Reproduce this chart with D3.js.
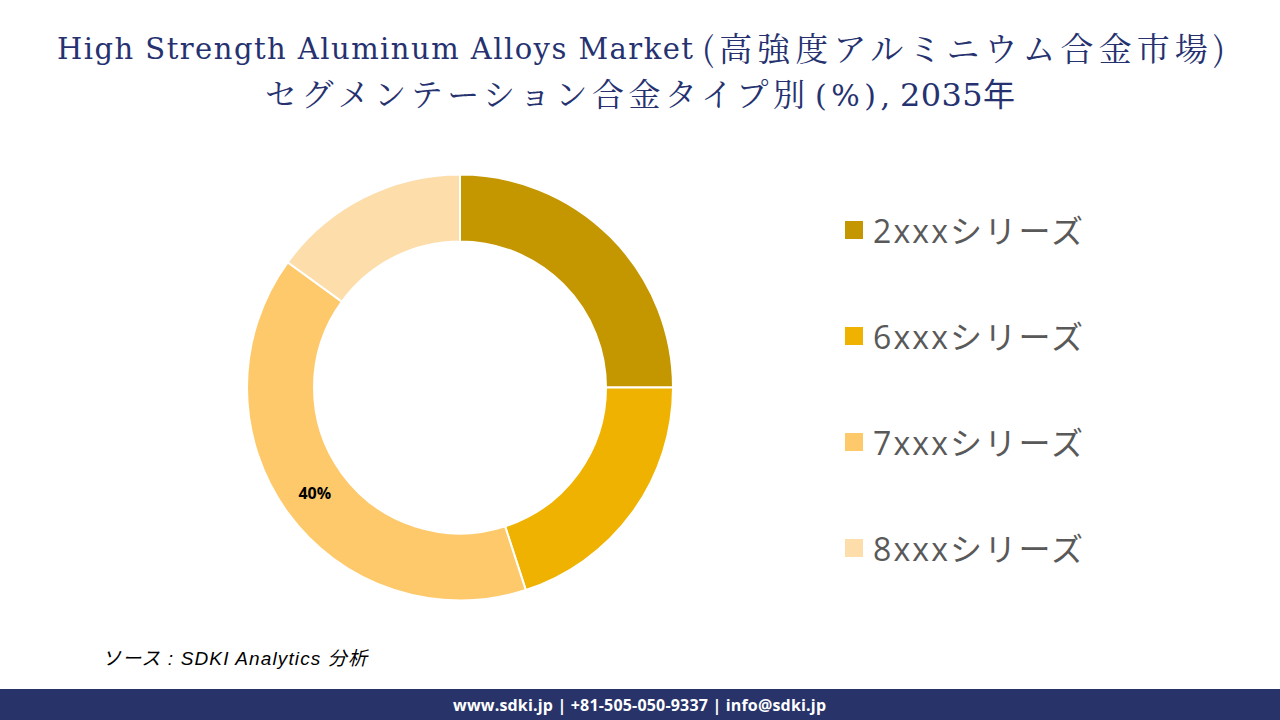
<!DOCTYPE html>
<html><head><meta charset="utf-8">
<script src="https://cdn.jsdelivr.net/npm/d3@7"></script>
<style>
html,body{margin:0;padding:0;background:#fff;}
svg{display:block;}
</style></head>
<body>
<svg id="c" width="1280" height="720"></svg>
<script>
const categories = ["2xxxシリーズ","6xxxシリーズ","7xxxシリーズ","8xxxシリーズ"];
const values = [25, 20, 40, 15];
const colors = ["#C49600","#EFB200","#FDC96B","#FDDDAA"];
const shownLabels = [false, false, true, false];
const titleLine1 = ["High Strength Aluminum Alloys Market", "(高強度アルミニウム合金市場)"];
const titleLine2 = ["セグメンテーション合金タイプ別", "(%),", "2035年"];

const svg = d3.select("#c");
const latinSerif = "'DejaVu Serif','Liberation Serif','Noto Sans CJK JP',serif";
const cjk = "'Noto Serif CJK JP','Noto Sans CJK JP',serif";
const sans = "'Open Sans','Noto Sans','Noto Sans CJK JP',sans-serif";
const navy = "#263270";

function seg(txt, x, y, len, fam, size){
  return svg.append("text").attr("x",x).attr("y",y)
    .attr("font-family",fam).attr("font-size",size).attr("fill",navy)
    .attr("textLength",len).attr("lengthAdjust","spacing").text(txt);
}
seg(titleLine1[0], 57, 59, 636, latinSerif, 29);
seg(titleLine1[1], 702, 61, 523, cjk, 33);
seg(titleLine2[0], 265, 106, 540, cjk, 32);
seg(titleLine2[1], 815, 106, 75, latinSerif, 30);
seg(titleLine2[2], 900, 106, 115, latinSerif, 32);

const cx = 460, cy = 387.5, R = 213, r = 146;
const pie = d3.pie().sort(null).value(d=>d)(values);
const arc = d3.arc().innerRadius(r).outerRadius(R);
const g = svg.append("g").attr("transform",`translate(${cx},${cy})`);
g.selectAll("path").data(pie).enter().append("path")
  .attr("d",arc).attr("fill",(d,i)=>colors[i]).attr("stroke","#fff").attr("stroke-width",2);

g.selectAll("text.lbl").data(pie.filter((d,i)=>shownLabels[i])).enter().append("text")
  .attr("class","lbl")
  .attr("transform",d=>`translate(${arc.centroid(d)})`)
  .attr("text-anchor","middle").attr("dominant-baseline","central")
  .attr("font-family",sans).attr("font-weight","bold").attr("font-size",16).attr("fill","#000")
  .text(d=>d.value+"%");

const ly = d3.scalePoint().domain(categories).range([230, 548]);
const lg = svg.append("g");
categories.forEach((c,i)=>{
  lg.append("rect").attr("x",845).attr("y",ly(c)-9).attr("width",18).attr("height",18).attr("fill",colors[i]);
  lg.append("text").attr("x",873).attr("y",ly(c)).attr("dominant-baseline","central")
    .attr("font-family",sans).attr("font-size",32).attr("fill","#595959")
    .attr("textLength",210).attr("lengthAdjust","spacing").text(c);
});

svg.append("text").attr("x",102).attr("y",665)
  .attr("font-family","'Liberation Sans','Noto Sans CJK JP',sans-serif").attr("font-style","italic").attr("font-size",19).attr("fill","#000")
  .attr("textLength",265).attr("lengthAdjust","spacing")
  .text("ソース : SDKI Analytics  分析");

svg.append("rect").attr("x",0).attr("y",689).attr("width",1280).attr("height",31).attr("fill","#283469");
svg.append("text").attr("x",453).attr("y",705).attr("dominant-baseline","central")
  .attr("font-family",sans).attr("font-weight","bold").attr("font-size",16).attr("fill","#fff")
  .attr("textLength",373).attr("lengthAdjust","spacing")
  .text("www.sdki.jp | +81-505-050-9337 | info@sdki.jp");
</script>
</body></html>
